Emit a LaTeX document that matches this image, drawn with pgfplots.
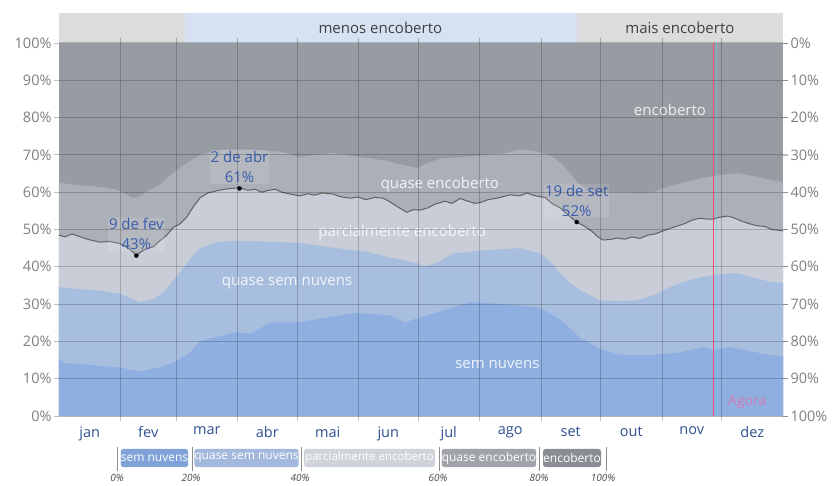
\documentclass[border=0pt]{standalone}
\usepackage{fontspec}
\setmainfont{Open Sans}
\usepackage{pgfplots}
\pgfplotsset{compat=1.18}
\definecolor{enc}{HTML}{979BA2}
\definecolor{qenc}{HTML}{ABAFB7}
\definecolor{parc}{HTML}{C8CDD7}
\definecolor{qsn}{HTML}{A8BEDF}
\definecolor{sn}{HTML}{8EAFDF}
\definecolor{topgray}{HTML}{DCDCDC}
\definecolor{topblue}{HTML}{D6E2F3}
\definecolor{monthc}{HTML}{2F4F8F}
\definecolor{tickc}{HTML}{7F7F7F}
\definecolor{annc}{HTML}{3A5DAE}
\definecolor{agoraline}{rgb}{0.94,0.31,0.43}
\definecolor{agoratext}{HTML}{E070B0}
\definecolor{lsn}{HTML}{7FA3D8}
\definecolor{lqsn}{HTML}{A2B9DD}
\definecolor{lparc}{HTML}{CFD4DB}
\definecolor{lqenc}{HTML}{A0A3A9}
\definecolor{lenc}{HTML}{8A8D93}
\pgfplotstableread{
day v
0 15.3
3 14.2
15.6 13.7
30.2 13
40.8 12
50.9 13
58.5 14.5
66 17
71 20
79.7 21.2
89.7 22.5
96.3 22
106.4 25
119.5 25
136.6 26.5
149.2 27.6
166.8 27
174.4 25
179.4 26
192 28
207.2 30.5
232.4 29.7
242.4 29
252.5 26
262.6 21
272.7 18
282.8 16.4
299.4 16.4
313 17
324.6 18.5
329.6 17.7
338.2 18.5
349.8 17.2
365 15.8
}\Bone
\pgfplotstableread{
day v
0 34.6
10.6 34.0
20.7 33.6
30.8 32.8
40.8 30.5
48.4 31.5
53.4 33.5
61.0 38.6
66.0 42.0
71.1 45.0
78.6 46.5
87.7 47.0
101.3 46.8
121.5 46.4
136.6 45.2
155.3 44.0
166.9 42.5
180.5 41.0
184.5 40.0
192.1 41.5
198.6 43.6
215.8 44.5
232.4 45.0
242.5 43.6
247.5 41.5
252.6 38.3
257.6 35.8
262.6 33.8
272.7 31.0
282.8 30.8
291.4 31.0
300.5 32.5
308.0 34.6
318.1 36.5
324.7 37.3
333.2 38.0
341.8 38.3
350.9 37.0
358.4 36.0
365 35.7
}\Btwo
\pgfplotstableread{
day v
0 48.5
3.0 48.0
6.6 48.8
12.1 47.8
15.6 47.2
20.7 46.6
25.7 46.8
30.8 46.2
34.8 45.0
37.3 44.0
39 43.0
41.8 44.2
44.9 45.0
47.4 45.3
50.9 47.0
54.4 48.5
57.5 50.5
61.0 51.5
64.5 53.4
67.6 56.0
71.1 58.5
75.1 59.8
79.7 60.4
83.7 60.8
87.2 61.0
91 61.2
95.3 60.5
98.8 60.8
102.3 60.0
104.9 60.4
108.9 60.8
112.4 60.0
116.5 59.5
121.5 59.0
125.5 59.6
129.1 59.2
132.6 59.8
138.1 59.5
141.7 58.8
146.7 58.4
150.7 58.7
154.8 58.0
159.3 58.6
163.3 58.4
166.9 57.4
170.9 56.0
175.4 54.6
178.5 55.3
182.0 55.2
186.0 55.8
189.6 56.8
194.6 57.6
198.1 57.0
202.2 58.3
206.2 57.6
209.7 57.0
212.2 57.2
216.3 58.0
219.8 58.3
223.3 58.7
227.4 59.3
232.4 59.0
235.9 59.8
239.0 59.2
242.5 58.8
245.0 58.6
248.5 57.0
252.6 55.8
256.1 54.2
258.6 53.0
261 52.0
265.1 50.8
268.7 49.5
271.7 48.0
274.2 47.2
277.8 47.3
281.3 47.7
285.3 47.4
288.9 48.0
292.9 47.6
296.9 48.5
300.5 48.8
304.0 49.5
308.0 50.3
312.1 51.0
315.6 51.6
319.1 52.5
323.2 53.0
326.7 52.8
329.7 52.8
333.2 53.3
337.3 53.6
340.8 53.0
344.3 52.2
348.4 51.5
351.9 51.0
355.9 50.8
359.5 50.0
362.5 49.8
365 49.6
}\Bthree
\pgfplotstableread{
day v
0 62.5
8.1 62.0
20.7 61.4
28.2 60.8
33.3 59.5
37.3 58.4
40.8 59.0
45.9 60.6
50.9 62.0
54.4 63.8
59.5 66.0
64.5 67.8
71.1 70.0
79.7 71.3
91.2 71.5
101.3 71.3
112.9 70.8
121.5 69.4
129.1 70.0
138.1 70.5
146.7 69.8
155.3 69.2
164.3 68.5
171.9 67.5
180.5 66.5
184.5 67.5
192.1 69.0
202.2 69.4
215.8 70.0
224.8 70.5
232.4 71.5
235.9 71.3
242.5 70.8
249.0 69.4
253.6 67.5
257.6 65.1
261.6 62.5
266.2 60.6
272.7 60.2
282.8 60.0
292.9 59.8
299.5 60.0
304.5 61.0
309.5 61.9
318.1 63.0
324.7 63.8
333.2 64.6
341.8 65.1
348.4 64.5
358.4 63.3
365 62.7
}\Bfour
\begin{document}
\begin{tikzpicture}
\useasboundingbox (-59bp,-70bp) rectangle (775bp,416bp);
\begin{axis}[
  at={(0,0)}, anchor=south west,
  scale only axis, width=724bp, height=373bp,
  xmin=0, xmax=365, ymin=0, ymax=100,
  axis on top, clip=false,
  axis line style={draw=none},
  xtick={15.5,45,74.5,105,135.5,166,196.5,227.5,258,288.5,319,349.5},
  xticklabels={jan,fev,mar,abr,mai,jun,jul,ago,set,out,nov,dez},
  major x tick style={draw=none},
  minor xtick={31,59,90,120,151,181,212,243,273,304,334},
  xminorgrids=true,
  ytick={0,10,...,100},
  yticklabels={0\%,10\%,20\%,30\%,40\%,50\%,60\%,70\%,80\%,90\%,100\%},
  ymajorgrids=true,
  tick align=outside,
  major tick length=5bp, minor tick length=5bp,
  major y tick style={black, opacity=0.25, line width=0.8bp},
  minor x tick style={black, opacity=0.25, line width=0.8bp},
  grid style={black, opacity=0.2, line width=1bp},
  minor grid style={black, opacity=0.2, line width=1bp},
  x tick label style={font=\fontsize{14.5bp}{16bp}\selectfont, text=monthc, yshift=-2bp},
  y tick label style={font=\fontsize{14.5bp}{16bp}\selectfont, text=tickc, xshift=1bp},
]
\addplot[draw=none, fill=enc] coordinates {(0,100) (365,100)} \closedcycle;
\addplot[draw=none, fill=qenc] table[x=day,y=v] {\Bfour} \closedcycle;
\addplot[draw=none, fill=parc] table[x=day,y=v] {\Bthree} \closedcycle;
\addplot[draw=none, fill=qsn] table[x=day,y=v] {\Btwo} \closedcycle;
\addplot[draw=none, fill=sn] table[x=day,y=v] {\Bone} \closedcycle;
\addplot[draw=black!62, line width=1bp] table[x=day,y=v] {\Bthree};
\addplot[only marks, mark=*, mark size=2bp, black] coordinates {(39,43) (91,61) (261,52)};
\addplot[draw=cyan!60, draw opacity=0.5, line width=0.6bp] coordinates {(331.3,0) (331.3,100)};
\addplot[draw=agoraline, line width=1.5bp] coordinates {(330,0) (330,100)};
% top band
\fill[topgray] (axis cs:0,100) rectangle (axis cs:63.5,108);
\fill[topblue] (axis cs:63.5,100) rectangle (axis cs:261,108);
\fill[topgray] (axis cs:261,100) rectangle (axis cs:365,108);
\node[font=\fontsize{15bp}{17bp}\selectfont, text=black!75] at (axis cs:162,104) {menos encoberto};
\node[font=\fontsize{15bp}{17bp}\selectfont, text=black!75] at (axis cs:313,104) {mais encoberto};
% area labels
\begin{scope}[every node/.style={font=\fontsize{15bp}{17bp}\selectfont, text=white, text opacity=0.85}]
\node at (axis cs:308,82) {encoberto};
\node at (axis cs:192,62) {quase encoberto};
\node at (axis cs:173,49.3) {parcialmente encoberto};
\node at (axis cs:115,35.7) {quase sem nuvens};
\node at (axis cs:221,13.7) {sem nuvens};
\end{scope}
\node[font=\fontsize{14bp}{16bp}\selectfont, text=agoratext, text opacity=0.85] at (axis cs:347,3.8) {Agora};
% annotations
\begin{scope}[every node/.style={font=\fontsize{15bp}{20bp}\selectfont, text=annc, align=center, anchor=south, inner sep=1bp, fill=white, fill opacity=0.12, text opacity=1, rounded corners=2bp}]
\node at (axis cs:39,44.2) {9 de fev\\43\%};
\node at (axis cs:91,62.2) {2 de abr\\61\%};
\node at (axis cs:261,53.2) {19 de set\\52\%};
\end{scope}
\end{axis}
\begin{axis}[
  at={(0,0)}, anchor=south west,
  scale only axis, width=724bp, height=373bp,
  xmin=0, xmax=365, ymin=0, ymax=100,
  y dir=reverse,
  axis y line*=right, axis x line=none,
  axis line style={draw=none},
  ytick={0,10,...,100},
  yticklabels={0\%,10\%,20\%,30\%,40\%,50\%,60\%,70\%,80\%,90\%,100\%},
  tick align=outside, major tick length=5bp,
  major y tick style={black, opacity=0.25, line width=0.8bp},
  y tick label style={font=\fontsize{14.5bp}{16bp}\selectfont, text=tickc, xshift=-1bp},
]
\end{axis}
% legend
\begin{scope}[x=1bp,y=1bp]
\foreach \xx in {58,133,242,380,480,547} \draw[black!45, line width=0.9bp] (\xx,-31) -- (\xx,-55);
\begin{scope}[every node/.style={font=\fontsize{12bp}{13bp}\selectfont, text=white, rounded corners=2.5bp, inner sep=0pt, minimum height=18bp, anchor=center}]
\node[fill=lsn, minimum width=67bp] at (95.5,-42) {sem nuvens};
\node[fill=lqsn, minimum width=101bp] at (187.5,-42) {quase sem nuvens};
\node[fill=lparc, minimum width=131bp] at (310.5,-42) {\fontsize{11.5bp}{13bp}\selectfont parcialmente encoberto};
\node[fill=lqenc, minimum width=94bp] at (430,-42) {quase encoberto};
\node[fill=lenc, minimum width=58bp] at (513,-42) {encoberto};
\end{scope}
\begin{scope}[every node/.style={font=\itshape\fontsize{10bp}{11bp}\selectfont, text=black!70}]
\node at (58,-62) {0\%};
\node at (132,-62) {20\%};
\node at (241,-62) {40\%};
\node at (379,-62) {60\%};
\node at (480,-62) {80\%};
\node at (544,-62) {100\%};
\end{scope}
\end{scope}
\end{tikzpicture}
\end{document}
